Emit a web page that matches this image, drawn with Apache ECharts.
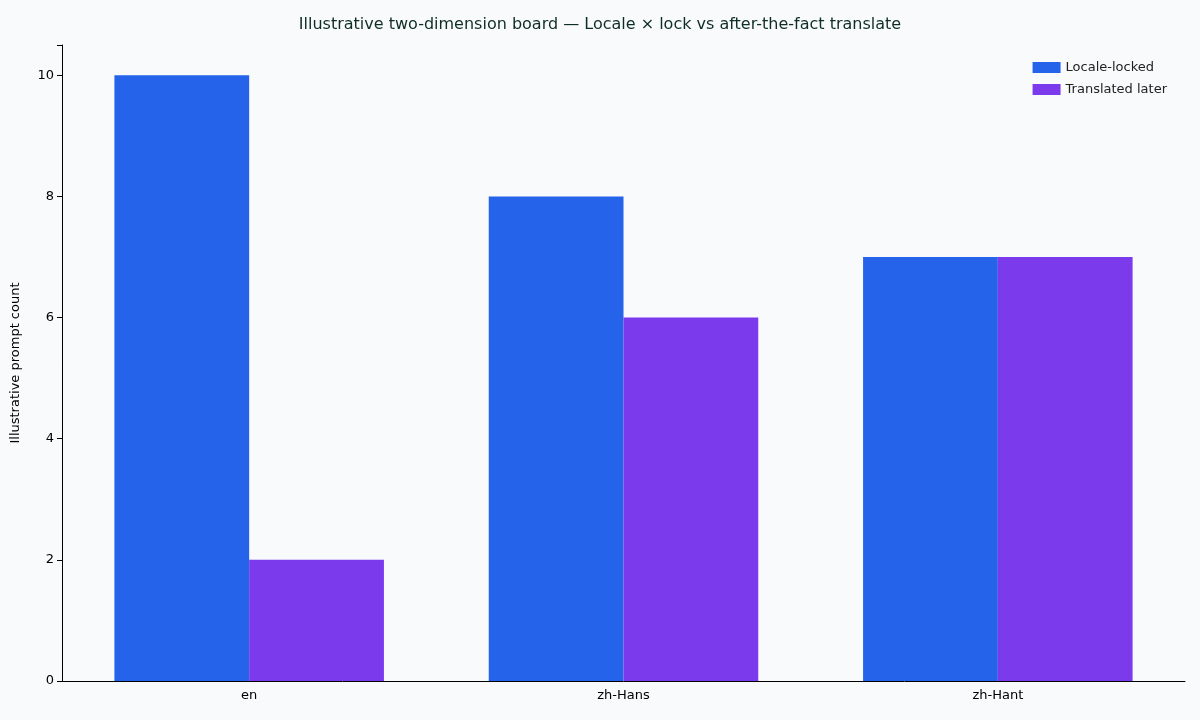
<!DOCTYPE html>
<html><head><meta charset="utf-8">
<script src="https://cdn.jsdelivr.net/npm/echarts@6/dist/echarts.min.js"></script>
<style>html,body{margin:0;padding:0;background:#f8fafc}#c{width:1200px;height:720px}</style>
</head><body><div id="c"></div>
<script>
const categories = ['en', 'zh-Hans', 'zh-Hant'];
const localeLocked = [10, 8, 7];
const translatedLater = [2, 6, 7];
const yTicks = [0, 2, 4, 6, 8, 10];
const chart = echarts.init(document.getElementById('c'));
const font = 'DejaVu Sans';
chart.setOption({
  backgroundColor: '#f8fafc',
  textStyle: {fontFamily: font},
  title: {text: 'Illustrative two-dimension board — Locale × lock vs after-the-fact translate', left: 'center', top: 12,
    textStyle: {fontFamily: font, fontSize: 16, fontWeight: 'normal', color: '#0f2e22'}},
  legend: {right: 28, top: 56, orient: 'vertical', itemWidth: 28, itemHeight: 11, itemGap: 9,
    textStyle: {fontFamily: font, fontSize: 13, color: '#222'}, icon: 'rect'},
  grid: {left: 62, right: 15, top: 45, bottom: 39},
  xAxis: {type: 'category', data: categories,
    axisLine: {lineStyle: {color: '#000'}}, axisTick: {alignWithLabel: true, lineStyle: {color: '#000'}},
    axisLabel: {color: '#000', fontSize: 13, fontFamily: font}},
  yAxis: {type: 'value', min: 0, max: 10.5, interval: 2, name: 'Illustrative prompt count',
    nameLocation: 'middle', nameGap: 40, nameTextStyle: {fontSize: 13, color: '#000', fontFamily: font},
    axisLine: {show: true, lineStyle: {color: '#000'}}, axisTick: {show: true, lineStyle: {color: '#000'}},
    splitLine: {show: false},
    axisLabel: {color: '#000', fontSize: 13, fontFamily: font, formatter: v => yTicks.includes(v) ? v : ''}},
  series: [
    {name: 'Locale-locked', type: 'bar', data: localeLocked, itemStyle: {color: '#2563eb'}, barGap: '0%', barCategoryGap: '28%'},
    {name: 'Translated later', type: 'bar', data: translatedLater, itemStyle: {color: '#7c3aed'}}
  ]
});
</script></body></html>
